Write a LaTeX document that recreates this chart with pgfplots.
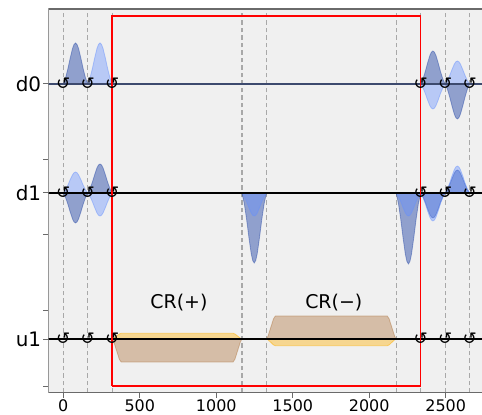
\documentclass[border=0pt]{standalone}
\usepackage{pgfplots}
\pgfplotsset{compat=1.18}
\usepackage{fontspec}
\setmainfont{DejaVu Sans}
\definecolor{reB}{HTML}{002999}
\definecolor{imB}{HTML}{648FFF}
\definecolor{reU}{HTML}{994A00}
\definecolor{imU}{HTML}{FFB000}
\definecolor{bgc}{HTML}{F0F0F0}
\definecolor{spine}{HTML}{6A6A6A}
\definecolor{gridc}{HTML}{A8A8A8}
\definecolor{d0line}{HTML}{3D4A6E}
\begin{document}
\begin{tikzpicture}
\begin{axis}[
  scale only axis, width=433.7bp, height=383.5bp,
  xmin=-98, xmax=2737, ymin=7.5, ymax=391,
  axis background/.style={fill=bgc},
  axis line style={draw=none},
  tick align=outside, xtick pos=bottom, ytick pos=left,
  major tick length=5bp, tick style={draw=spine, line width=1bp},
  xtick={0,500,1000,1500,2000,2500},
  ytick={61,207,316}, yticklabels={u1,d1,d0},
  extra y ticks={13.3,89.3,165,240}, extra y tick labels={},
  extra x ticks={0,160,320,1168,1328,2176,2336,2496,2656}, extra x tick labels={},
  extra x tick style={grid=major, major tick length=0pt},
  major grid style={draw=gridc, line width=1.2bp, dash pattern=on 4.5bp off 3bp},
  xticklabel style={font=\fontsize{16}{16}\selectfont, inner sep=2bp},
  yticklabel style={font=\fontsize{20}{20}\selectfont, inner sep=2bp},
  /pgf/number format/assume math mode=true,
  /pgf/number format/1000 sep={},
  re/.style={fill=reB, fill opacity=0.4, draw=reB, draw opacity=0.35, line width=0.8bp},
  im/.style={fill=imB, fill opacity=0.4, draw=imB, draw opacity=0.45, line width=0.8bp},
  reu/.style={fill=reU, fill opacity=0.3, draw=reU, draw opacity=0.3, line width=0.8bp},
  imu/.style={fill=imU, fill opacity=0.4, draw=imU, draw opacity=0.5, line width=0.8bp},
]
% ---------- d0 ----------
\addplot[re] coordinates {(0,316)(15,322.2)(30,331.3)(45,341.9)(60,351.4)(70,355.5)(80,357)(90,355.5)(100,351.4)(115,341.9)(130,331.3)(145,322.2)(160,316)};
\addplot[im] coordinates {(160,316)(175,322.2)(190,331.3)(205,341.9)(220,351.4)(230,355.5)(240,357)(250,355.5)(260,351.4)(275,341.9)(290,331.3)(305,322.2)(320,316)};
\addplot[re] coordinates {(2336,316)(2351,321.0)(2366,328.3)(2381,336.9)(2396,344.5)(2406,347.8)(2416,349)(2426,347.8)(2436,344.5)(2451,336.9)(2466,328.3)(2481,321.0)(2496,316)};
\addplot[im] coordinates {(2336,316)(2351,312.2)(2366,306.7)(2381,300.2)(2396,294.4)(2406,291.9)(2416,291)(2426,291.9)(2436,294.4)(2451,300.2)(2466,306.7)(2481,312.2)(2496,316)};
\addplot[im] coordinates {(2496,316)(2511,319.5)(2526,324.6)(2541,330.5)(2556,335.9)(2566,338.2)(2576,339)(2586,338.2)(2596,335.9)(2611,330.5)(2626,324.6)(2641,319.5)(2656,316)};
\addplot[re] coordinates {(2496,316)(2511,310.7)(2526,302.9)(2541,293.9)(2556,285.8)(2566,282.3)(2576,281)(2586,282.3)(2596,285.8)(2611,293.9)(2626,302.9)(2641,310.7)(2656,316)};
% ---------- d1 ----------
\addplot[re] coordinates {(0,207)(15,202.4)(30,195.8)(45,188.0)(60,181.1)(70,178.1)(80,177)(90,178.1)(100,181.1)(115,188.0)(130,195.8)(145,202.4)(160,207)};
\addplot[im] coordinates {(0,207)(15,210.2)(30,214.8)(45,220.3)(60,225.1)(70,227.2)(80,228)(90,227.2)(100,225.1)(115,220.3)(130,214.8)(145,210.2)(160,207)};
\addplot[re] coordinates {(160,207)(175,211.4)(190,217.8)(205,225.3)(220,232.1)(230,235.0)(240,236)(250,235.0)(260,232.1)(275,225.3)(290,217.8)(305,211.4)(320,207)};
\addplot[im] coordinates {(160,207)(175,203.5)(190,198.4)(205,192.5)(220,187.1)(230,184.8)(240,184)(250,184.8)(260,187.1)(275,192.5)(290,198.4)(305,203.5)(320,207)};
\addplot[re] coordinates {(1168,207)(1183,196.4)(1198,180.9)(1213,162.8)(1228,146.5)(1238,139.5)(1248,137)(1258,139.5)(1268,146.5)(1283,162.8)(1298,180.9)(1313,196.4)(1328,207)};
\addplot[im] coordinates {(1168,207)(1183,203.5)(1198,198.4)(1213,192.5)(1228,187.1)(1238,184.8)(1248,184)(1258,184.8)(1268,187.1)(1283,192.5)(1298,198.4)(1313,203.5)(1328,207)};
\addplot[re] coordinates {(2176,207)(2191,196.2)(2206,180.5)(2221,162.1)(2236,145.7)(2246,138.6)(2256,136)(2266,138.6)(2276,145.7)(2291,162.1)(2306,180.5)(2321,196.2)(2336,207)};
\addplot[im] coordinates {(2176,207)(2191,203.5)(2206,198.4)(2221,192.5)(2236,187.1)(2246,184.8)(2256,184)(2266,184.8)(2276,187.1)(2291,192.5)(2306,198.4)(2321,203.5)(2336,207)};
\addplot[re] coordinates {(2336,207)(2351,203.2)(2366,197.7)(2381,191.2)(2396,185.4)(2406,182.9)(2416,182)(2426,182.9)(2436,185.4)(2451,191.2)(2466,197.7)(2481,203.2)(2496,207)};
\addplot[im] coordinates {(2336,207)(2351,202.7)(2366,196.6)(2381,189.3)(2396,182.8)(2406,180.0)(2416,179)(2426,180.0)(2436,182.8)(2451,189.3)(2466,196.6)(2481,202.7)(2496,207)};
\addplot[re] coordinates {(2496,207)(2511,210.5)(2526,215.6)(2541,221.5)(2556,226.9)(2566,229.2)(2576,230)(2586,229.2)(2596,226.9)(2611,221.5)(2626,215.6)(2641,210.5)(2656,207)};
\addplot[im] coordinates {(2496,207)(2511,211.1)(2526,217.1)(2541,224.1)(2556,230.3)(2566,233.0)(2576,234)(2586,233.0)(2596,230.3)(2611,224.1)(2626,217.1)(2641,211.1)(2656,207)};
% ---------- u1 ----------
\addplot[reu] coordinates {(320,61)(330,58.2)(348,49.5)(366,40.8)(378,38)(1110,38)(1122,40.8)(1140,49.5)(1158,58.2)(1168,61)};
\addplot[imu] coordinates {(320,61)(330,61.7)(348,63.9)(366,66.0)(378,66.7)(1110,66.7)(1122,66.0)(1140,63.9)(1158,61.7)(1168,61)};
\addplot[reu] coordinates {(1328,61)(1338,63.8)(1356,72.5)(1374,81.2)(1386,84)(2118,84)(2130,81.2)(2148,72.5)(2166,63.8)(2176,61)};
\addplot[imu] coordinates {(1328,61)(1338,60.2)(1356,57.7)(1374,55.1)(1386,54.3)(2118,54.3)(2130,55.1)(2148,57.7)(2166,60.2)(2176,61)};
% ---------- baselines ----------
\addplot[d0line, line width=1.4bp] coordinates {(-98,316)(2737,316)};
\addplot[black, line width=1.3bp] coordinates {(-98,207)(2737,207)};
\addplot[black, line width=1.3bp] coordinates {(-98,61)(2737,61)};
% ---------- red box ----------
\addplot[red, line width=1.5bp] coordinates {(320,14)(2336,14)(2336,384)(320,384)(320,14)};
% ---------- frame changes ----------
\addplot[only marks, mark=text, text mark={↺}, text mark as node=true,
  text mark style={font=\fontsize{17}{17}\selectfont, inner sep=0pt, anchor=center}]
  coordinates {(0,316)(160,316)(320,316)(2336,316)(2496,316)(2656,316)
               (0,207)(160,207)(320,207)(2336,207)(2496,207)(2656,207)
               (0,61)(160,61)(320,61)(2336,61)(2496,61)(2656,61)};
% ---------- labels ----------
\node[font=\fontsize{19}{19}\selectfont] at (axis cs:756,97.3) {CR(+)};
\node[font=\fontsize{19}{19}\selectfont] at (axis cs:1768,97.3) {CR(−)};
% ---------- spines ----------
\draw[spine, line width=1.3bp] (rel axis cs:1,1) -- (rel axis cs:0,1) -- (rel axis cs:0,0) -- (rel axis cs:1,0);
\coordinate (BL) at (rel axis cs:0,0);
\coordinate (TR) at (rel axis cs:1,1);
\end{axis}
\pgfresetboundingbox
\path ([xshift=-48.3bp,yshift=-22.5bp]BL) rectangle ([yshift=9bp]TR);
\end{tikzpicture}
\end{document}
